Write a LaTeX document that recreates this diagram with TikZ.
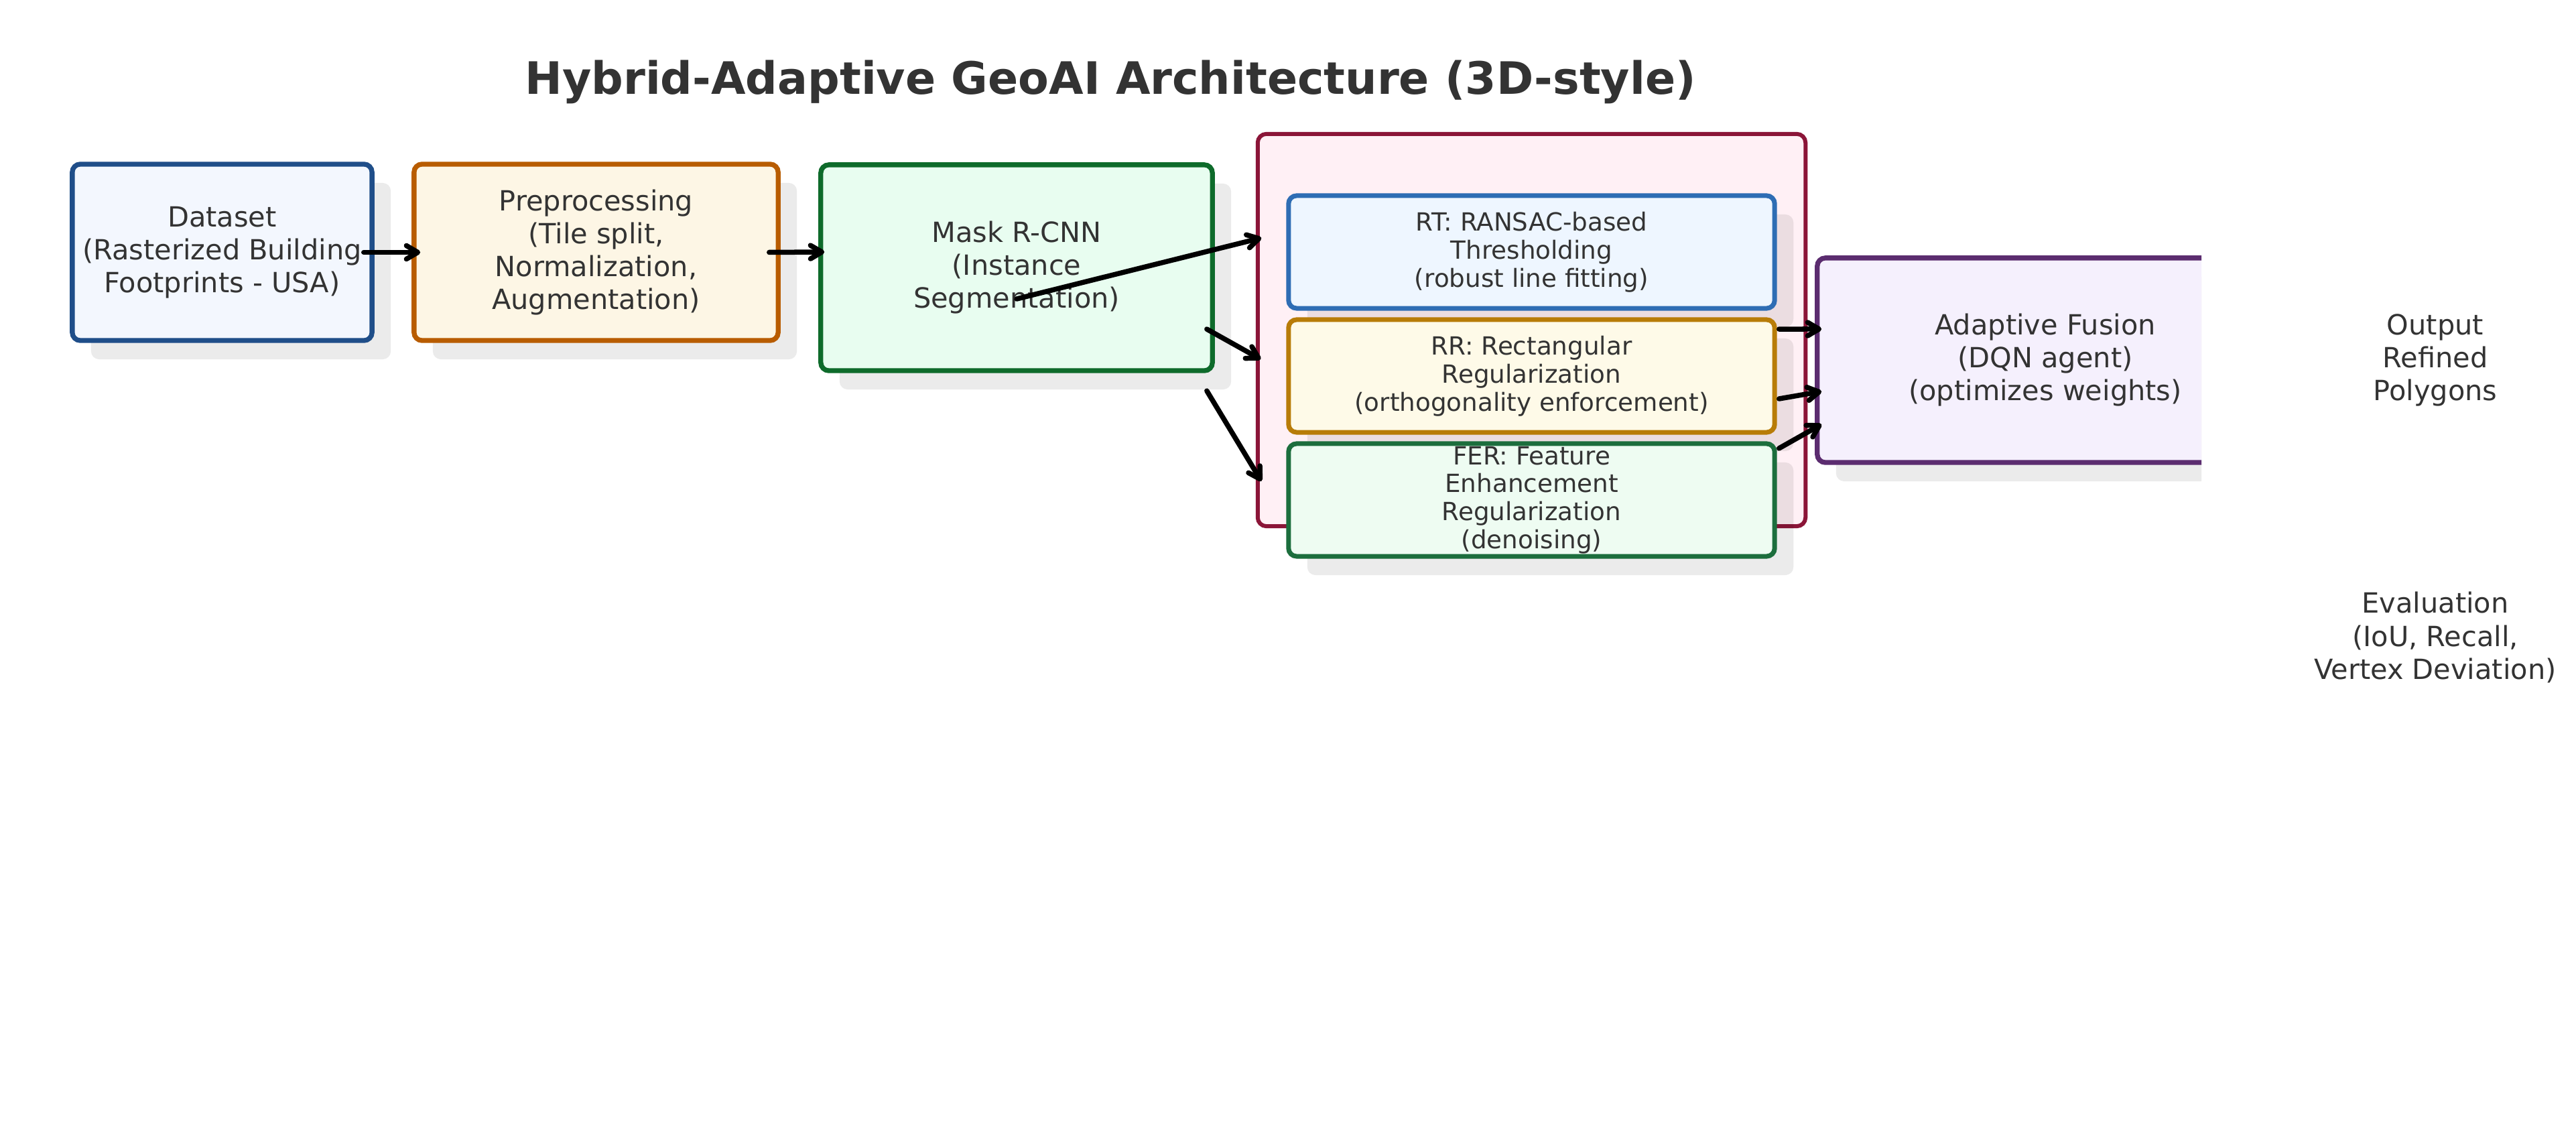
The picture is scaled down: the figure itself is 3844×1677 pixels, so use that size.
\documentclass[tikz,border=0pt]{standalone}
\usepackage{fontspec}
\setmainfont{DejaVu Sans}
\usetikzlibrary{arrows.meta,shadows}
\definecolor{txt}{HTML}{333333}
\definecolor{dataB}{HTML}{1F4E89}\definecolor{dataF}{HTML}{F3F7FE}
\definecolor{preB}{HTML}{B85C00}\definecolor{preF}{HTML}{FDF6E5}
\definecolor{maskB}{HTML}{0E6B2B}\definecolor{maskF}{HTML}{E8FDF0}
\definecolor{contB}{HTML}{8B1538}\definecolor{contF}{HTML}{FFF0F5}
\definecolor{rtB}{HTML}{2E6DB4}\definecolor{rtF}{HTML}{EEF6FF}
\definecolor{rrB}{HTML}{B87C08}\definecolor{rrF}{HTML}{FEFAE8}
\definecolor{ferB}{HTML}{1C6E3D}\definecolor{ferF}{HTML}{EEFCF2}
\definecolor{fusB}{HTML}{5B2C6F}\definecolor{fusF}{HTML}{F5F0FD}
\newcommand\bodyfont{\fontsize{11.8}{13.94}\selectfont}
\newcommand\subfont{\fontsize{10.6}{11.87}\selectfont}
\newcommand\titlefont{\fontsize{18.95}{22}\selectfont\bfseries}
\begin{document}
\begin{tikzpicture}[x=0.01cm,y=-0.01cm,
  shad/.style={drop shadow={shadow xshift=0.28cm,shadow yshift=-0.28cm,fill=black,opacity=0.08}},
  box/.style={rounded corners=0.12cm, line width=0.073cm, inner sep=0pt, align=center, text=txt, font=\bodyfont},
  subbox/.style={box, font=\subfont, line width=0.07cm},
  lbl/.style={align=center, text=txt, font=\bodyfont, inner sep=0pt},
  arr/.style={draw=black, line width=0.075cm, line cap=round, -{Straight Barb[length=0.17cm,width=0.2cm,line width=0.075cm,round]}}]
\useasboundingbox (0,0) rectangle (3844,1677);
\fill[white] (0,0) rectangle (3844,1677);

\node[anchor=base, text=txt, font=\titlefont, inner sep=0pt] (title) at (1657,141) {Hybrid-Adaptive GeoAI Architecture (3D-style)};

\node[box, shad, draw=dataB, fill=dataF, minimum width=4.47cm, minimum height=2.63cm] (data) at (331.5,376.5)
  {Dataset\\(Rasterized Building\\Footprints - USA)};
\node[box, shad, draw=preB, fill=preF, minimum width=5.43cm, minimum height=2.63cm] (pre) at (889.5,376.5)
  {Preprocessing\\(Tile split,\\Normalization,\\Augmentation)};
\node[box, shad, draw=maskB, fill=maskF, minimum width=5.84cm, minimum height=3.07cm] (mask) at (1517,399.5)
  {Mask R-CNN\\(Instance\\Segmentation)};

\node[rounded corners=0.13cm, line width=0.06cm, draw=contB, fill=contF, inner sep=0pt, minimum width=8.17cm, minimum height=5.85cm] (cont) at (2285.5,492.5) {};

\node[subbox, shad, draw=rtB, fill=rtF, minimum width=7.25cm, minimum height=1.68cm] (rt) at (2285.5,376)
  {RT: RANSAC-based\\Thresholding\\(robust line fitting)};
\node[subbox, shad, draw=rrB, fill=rrF, minimum width=7.25cm, minimum height=1.68cm] (rr) at (2285.5,561)
  {RR: Rectangular\\Regularization\\(orthogonality enforcement)};
\node[subbox, shad, draw=ferB, fill=ferF, minimum width=7.25cm, minimum height=1.68cm] (fer) at (2285.5,746)
  {FER: Feature\\Enhancement\\Regularization\\(denoising)};

\begin{scope}
\clip (0,0) rectangle (3285,1677);
\node[box, shad, draw=fusB, fill=fusF, minimum width=6.8cm, minimum height=3.05cm] (fus) at (3052,537.5)
  {Adaptive Fusion\\(DQN agent)\\(optimizes weights)};
\end{scope}

\node[lbl] (out) at (3634,537) {Output\\Refined\\Polygons};
\node[lbl] (eval) at (3634,951) {Evaluation\\(IoU, Recall,\\Vertex Deviation)};

\draw[arr] ([xshift=-0.16cm]data.east) -- ([xshift=0.13cm]pre.west);
\draw[arr] ([xshift=-0.17cm]pre.east) -- ([xshift=0.09cm,yshift=0.235cm]mask.west);
\draw[arr] ([yshift=-0.465cm]mask.center) -- ([xshift=-0.37cm,yshift=0.21cm]rt.west);
\draw[arr] ([xshift=-0.12cm,yshift=-0.915cm]mask.east) -- ([xshift=-0.38cm,yshift=0.25cm]rr.west);
\draw[arr] ([xshift=-0.12cm,yshift=-1.835cm]mask.east) -- ([xshift=-0.37cm,yshift=0.28cm]fer.west);
\draw[arr] ([xshift=0.03cm,yshift=-1.15cm]rt.east) -- ([xshift=0.10cm,yshift=0.465cm]fus.west);
\draw[arr] ([xshift=0.03cm,yshift=-0.34cm]rr.east) -- ([xshift=0.10cm,yshift=-0.465cm]fus.west);
\draw[arr] ([xshift=0.03cm,yshift=0.77cm]fer.east) -- ([xshift=0.10cm,yshift=-0.955cm]fus.west);
\end{tikzpicture}
\end{document}
